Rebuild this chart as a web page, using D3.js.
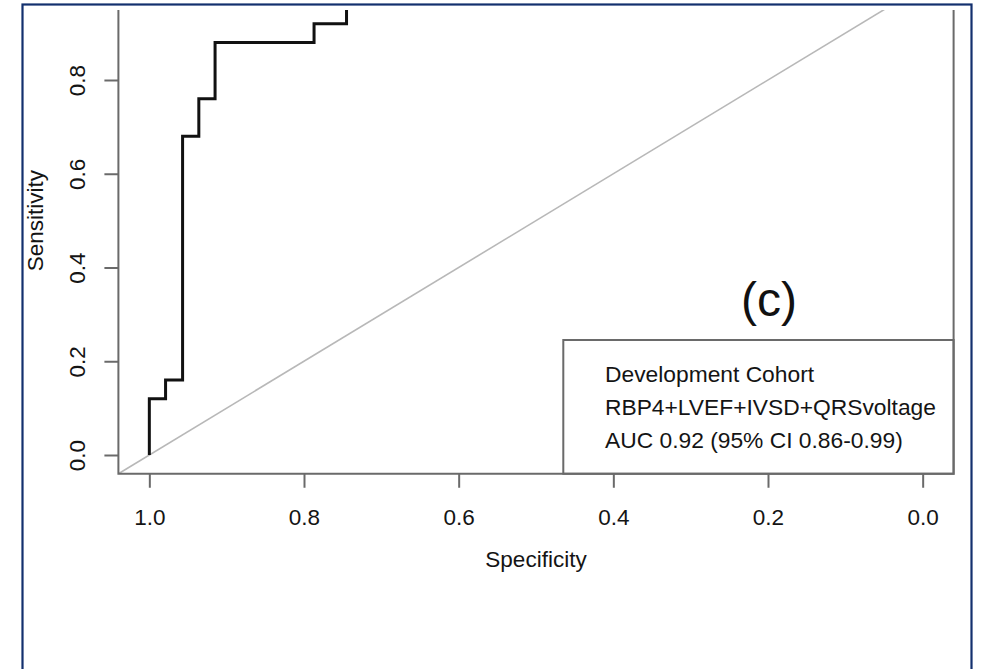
<!DOCTYPE html>
<html>
<head>
<meta charset="utf-8">
<script src="https://cdn.jsdelivr.net/npm/d3@7"></script>
<style>
body { margin: 0; background: #fff; }
svg { display: block; font-family: "Liberation Sans", Arial, sans-serif; }
</style>
</head>
<body>
<svg id="chart"></svg>
<script>
var width = 982;
var height = 669;

// ROC curve points (specificity, sensitivity)
var specificity = [1.0, 1.0, 0.979, 0.979, 0.957, 0.957, 0.936, 0.936, 0.915, 0.915, 0.787, 0.787, 0.745, 0.745, 0.0];
var sensitivity = [0.0, 0.12, 0.12, 0.16, 0.16, 0.68, 0.68, 0.76, 0.76, 0.88, 0.88, 0.92, 0.92, 1.0, 1.0];

var xTicks = [1.0, 0.8, 0.6, 0.4, 0.2, 0.0];
var yTicks = [0.0, 0.2, 0.4, 0.6, 0.8, 1.0];

var legendLines = [
	"Development Cohort",
	"RBP4+LVEF+IVSD+QRSvoltage",
	"AUC 0.92 (95% CI 0.86-0.99)"
];

var svg = d3.select("#chart")
.attr("width", width)
.attr("height", height);

svg.append("rect")
.attr("width", width)
.attr("height", height)
.attr("fill", "#fff");

var x = d3.scaleLinear()
.domain([1.04, -0.04])
.range([118.4, 953.6]);

var y = d3.scaleLinear()
.domain([-0.04, 1.04])
.range([473.75, -32.5]);

svg.append("clipPath")
.attr("id", "clip")
.append("rect")
.attr("x", 0)
.attr("y", 10)
.attr("width", width)
.attr("height", height);

var plot = svg.append("g")
.attr("clip-path", "url(#clip)");

// diagonal reference line
plot.append("line")
.attr("x1", x(1.04))
.attr("y1", y(-0.04))
.attr("x2", x(-0.04))
.attr("y2", y(1.04))
.attr("stroke", "#b8b8b8")
.attr("stroke-width", 1.6);

// ROC curve
var pts = specificity.map(function (s, i) { return [s, sensitivity[i]]; });

var line = d3.line()
.x(function (d) { return x(d[0]); })
.y(function (d) { return y(d[1]); });

plot.append("path")
.datum(pts)
.attr("d", line)
.attr("fill", "none")
.attr("stroke", "#111")
.attr("stroke-width", 3);

// legend box
var legendTop = 340;
var legendLeft = 563.3;

plot.append("rect")
.attr("x", legendLeft)
.attr("y", legendTop)
.attr("width", x(-0.04) - legendLeft)
.attr("height", y(-0.04) - legendTop)
.attr("fill", "#fff")
.attr("stroke", "#6a6a6a")
.attr("stroke-width", 2);

legendLines.forEach(function (t, i) {
	plot.append("text")
	.attr("x", 605)
	.attr("y", 382.3 + i * 33)
	.style("font-size", "22.8px")
	.style("fill", "#141414")
	.text(t);
});

// plot frame
plot.append("rect")
.attr("x", x(1.04))
.attr("y", y(1.04))
.attr("width", x(-0.04) - x(1.04))
.attr("height", y(-0.04) - y(1.04))
.attr("fill", "none")
.attr("stroke", "#6a6a6a")
.attr("stroke-width", 2);

// panel label
svg.append("text")
.attr("x", 769)
.attr("y", 316)
.attr("text-anchor", "middle")
.style("font-size", "48px")
.style("fill", "#111")
.text("(c)");

// axes
var yAxis = svg.append("g")
.attr("transform", "translate(" + x(1.04) + ",0)")
.call(d3.axisLeft(y).tickValues(yTicks).tickSize(14).tickFormat(d3.format(".1f")));

var xAxis = svg.append("g")
.attr("transform", "translate(0," + y(-0.04) + ")")
.call(d3.axisBottom(x).tickValues(xTicks).tickSize(14).tickFormat(d3.format(".1f")));

[yAxis, xAxis].forEach(function (a) {
	a.select(".domain").remove();
	a.selectAll(".tick line")
	.attr("stroke", "#6a6a6a")
	.attr("stroke-width", 2);
	a.selectAll(".tick text")
	.style("font-size", "22.5px")
	.style("font-family", "'Liberation Sans', Arial, sans-serif")
	.attr("fill", "#141414");
});

yAxis.selectAll(".tick")
.filter(function (d) { return y(d) < 10; })
.remove();

yAxis.selectAll(".tick text")
.attr("x", 0)
.attr("y", 0)
.attr("dy", 0)
.attr("text-anchor", "middle")
.attr("transform", "translate(-33,0) rotate(-90)");

xAxis.selectAll(".tick text")
.attr("y", 51.3)
.attr("dy", 0);

// axis titles
svg.append("text")
.attr("x", (x(1.04) + x(-0.04)) / 2)
.attr("y", 566.5)
.attr("text-anchor", "middle")
.style("font-size", "22.5px")
.style("fill", "#141414")
.text("Specificity");

svg.append("text")
.attr("transform", "translate(42.5," + ((y(-0.04) + y(1.04)) / 2) + ") rotate(-90)")
.attr("text-anchor", "middle")
.style("font-size", "22.5px")
.style("fill", "#141414")
.text("Sensitivity");

// outer border
svg.append("rect")
.attr("x", 22.5)
.attr("y", 4.5)
.attr("width", 949)
.attr("height", 700)
.attr("fill", "none")
.attr("stroke", "#13306e")
.attr("stroke-width", 2.2);
</script>
</body>
</html>
